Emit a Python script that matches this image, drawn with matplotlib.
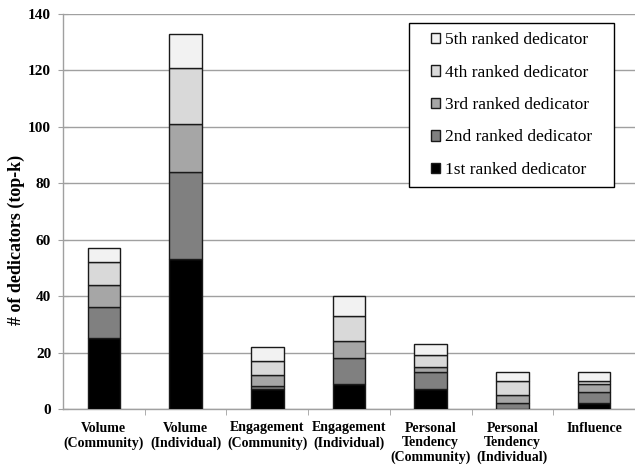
import matplotlib
matplotlib.use("Agg")
import matplotlib.pyplot as plt
from matplotlib.patches import Rectangle
import numpy as np

categories = ["Volume\n(Community)", "Volume\n(Individual)", "Engagement\n(Community)",
              "Engagement\n(Individual)", "Personal\nTendency\n(Community)",
              "Personal\nTendency\n(Individual)", "Influence"]
series_names = ["1st ranked dedicator", "2nd ranked dedicator", "3rd ranked dedicator",
                "4th ranked dedicator", "5th ranked dedicator"]
rank1 = [25, 53, 7, 9, 7, 0, 2]
rank2 = [11, 31, 1, 9, 6, 2, 4]
rank3 = [8, 17, 4, 6, 2, 3, 3]
rank4 = [8, 20, 5, 9, 4, 5, 1]
rank5 = [5, 12, 5, 7, 4, 3, 3]
yticks = [0, 20, 40, 60, 80, 100, 120, 140]

colors = ["#000000", "#808080", "#a6a6a6", "#d9d9d9", "#f2f2f2"]
plt.rcParams['font.family'] = ['Liberation Serif', 'DejaVu Serif']

fig = plt.figure(figsize=(6.35, 4.68), dpi=100)
ax = fig.add_axes([63/635, 1 - 409/468, 572/635, (409-14)/468])

x = np.arange(len(categories))
bottom = np.zeros(len(categories))
handles = []
for vals, c, name in zip([rank1, rank2, rank3, rank4, rank5], colors, series_names):
    b = ax.bar(x, vals, width=0.4, bottom=bottom, color=c, edgecolor="#1a1a1a",
               linewidth=1.0, label=name, zorder=3)
    handles.append(b)
    bottom += np.array(vals)

ax.set_xlim(-0.5, len(categories) - 0.5)
ax.set_ylim(0, 140)
ax.set_yticks(yticks)
ax.set_yticklabels([str(t) for t in yticks], fontsize=11, fontweight='bold')
ax.yaxis.grid(True, color="#a0a0a0", linewidth=1.0, zorder=0)
ax.set_axisbelow(True)
for s in ["top", "right"]:
    ax.spines[s].set_visible(False)
for s in ["left", "bottom"]:
    ax.spines[s].set_color("#a0a0a0")
    ax.spines[s].set_linewidth(1.0)
ax.tick_params(axis='y', direction='inout', length=7, color="#a0a0a0", pad=5)

ax.set_xticks(x)
ax.set_xticklabels(categories, fontsize=10, fontweight='bold', linespacing=1.15)
ax.tick_params(axis='x', length=0, pad=9)
ax.set_xticks(np.arange(0.5, len(categories) - 0.5, 1), minor=True)
ax.tick_params(axis='x', which='minor', direction='out', length=4, color="#a0a0a0")

ax.set_ylabel("# of dedicators (top-k)", fontsize=13, fontweight='bold')
ax.yaxis.set_label_coords((25 - 63) / 572, 1 - (240 - 14) / 395)

# legend frame
box_x0, box_x1 = (409 - 63) / 572, (614 - 63) / 572
box_y0, box_y1 = 1 - (187 - 14) / 395, 1 - (23 - 14) / 395
ax.add_patch(Rectangle((box_x0, box_y0), box_x1 - box_x0, box_y1 - box_y0,
                       transform=ax.transAxes, facecolor="white", edgecolor="black",
                       linewidth=1.0, zorder=5, clip_on=False))
leg = ax.legend(handles[::-1], series_names[::-1], loc='center',
                bbox_to_anchor=((box_x0 + box_x1) / 2, (box_y0 + box_y1) / 2),
                prop={'family': 'Liberation Serif', 'size': 12.5},
                frameon=False, handlelength=0.55, handleheight=0.55,
                labelspacing=0.95, borderpad=0.2, handletextpad=0.3, borderaxespad=0)
leg.set_zorder(6)

fig.savefig("out.png", dpi=100)
